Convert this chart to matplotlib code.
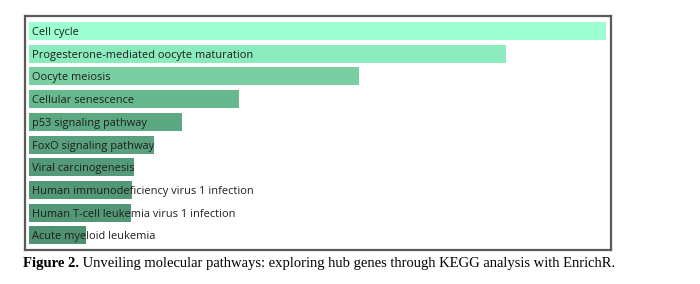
import matplotlib.pyplot as plt

terms = ['Cell cycle', 'Progesterone-mediated oocyte maturation', 'Oocyte meiosis',
         'Cellular senescence', 'p53 signaling pathway', 'FoxO signaling pathway',
         'Viral carcinogenesis', 'Human immunodeficiency virus 1 infection',
         'Human T-cell leukemia virus 1 infection', 'Acute myeloid leukemia']
scores = [577, 477, 330, 210, 153, 125, 105, 103, 102, 57]
colors = ['#9cffd0', '#8aebbc', '#77cfa2', '#66b98f', '#5ca883',
          '#58a07e', '#549a78', '#539977', '#539876', '#4f9272']
caption = ' Unveiling molecular pathways: exploring hub genes through KEGG analysis with EnrichR.'

fig = plt.figure(figsize=(7, 2.84), dpi=100)
ax = fig.add_axes([25/700, 1 - 250/284, 586/700, 234/284])

ypos = list(range(len(terms)))
ax.barh(ypos, scores, height=0.79, color=colors)
for y, name in zip(ypos, terms):
    ax.annotate(name, xy=(0, y), xytext=(2.3, 0), textcoords='offset points',
                va='center_baseline', ha='left', fontsize=7.9, family='Open Sans',
                color='#1e1e1e')

ax.set_xlim(-4, 582)
ax.set_ylim(9.64, -0.66)
ax.set_xticks([])
ax.set_yticks([])
for s in ax.spines.values():
    s.set_color('#5a5a5a')
    s.set_linewidth(1.6)

t1 = fig.text(23/700, 1 - 263/284, 'Figure 2.', family='Liberation Serif',
              fontweight='bold', fontsize=10.5, va='center', ha='left')
ax.annotate(caption, xy=(1, 0), xycoords=t1, va='bottom', ha='left',
            family='Liberation Serif', fontsize=10.5, annotation_clip=False)

fig.savefig('out.png', dpi=100)
